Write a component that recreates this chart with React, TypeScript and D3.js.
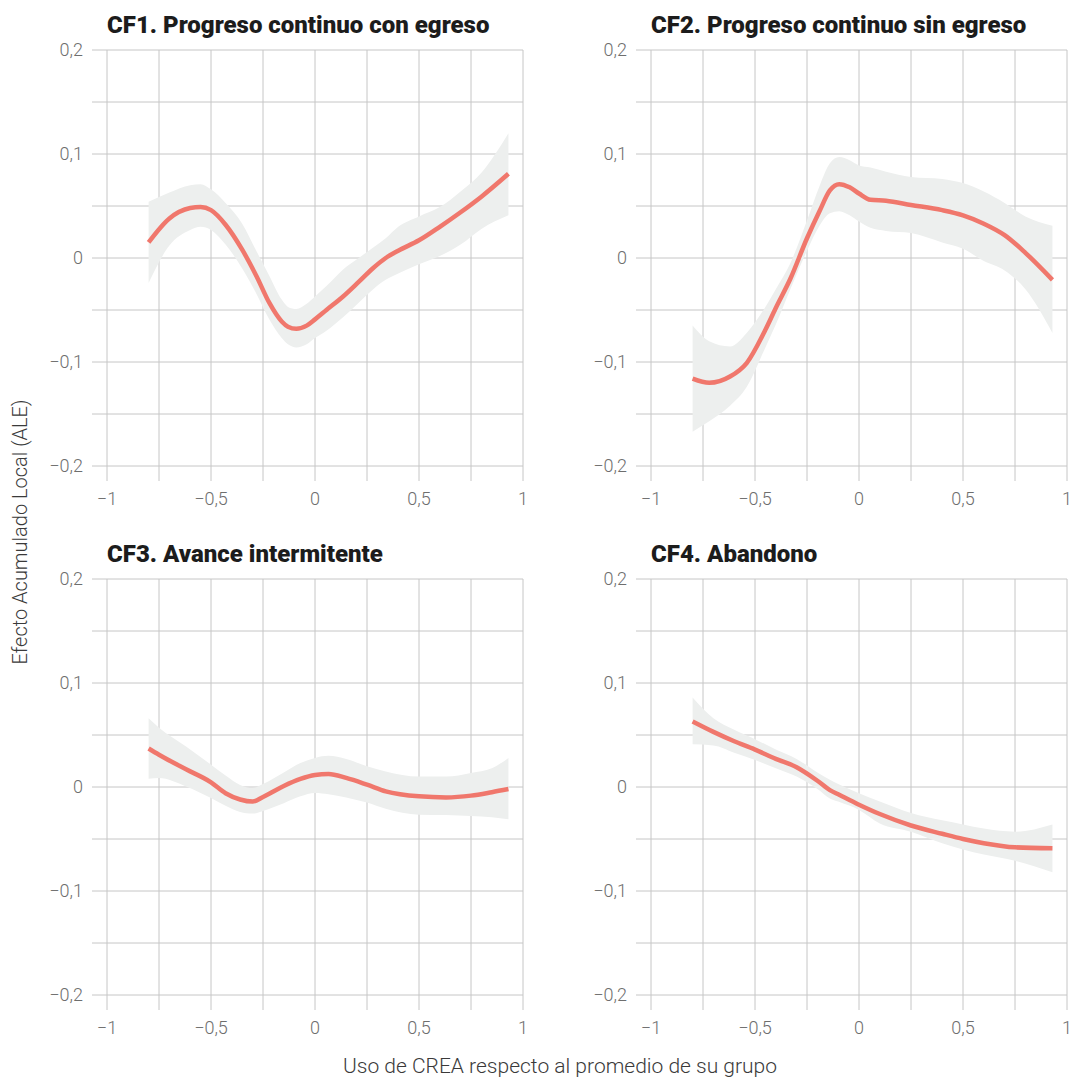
import React from 'react';
import * as d3 from 'd3';

// Axis ticks and grid
const xTickValues = [-1, -0.5, 0, 0.5, 1];
const xGridValues = [-1, -0.75, -0.5, -0.25, 0, 0.25, 0.5, 0.75, 1];
const yTickValues = [-0.2, -0.1, 0, 0.1, 0.2];
const yGridValues = [-0.2, -0.15, -0.1, -0.05, 0, 0.05, 0.1, 0.15, 0.2];

// CF1. Progreso continuo con egreso
const cf1X = [-0.8, -0.7, -0.6, -0.55, -0.5, -0.43, -0.35, -0.28, -0.22, -0.16, -0.13, -0.09, -0.04, 0, 0.055, 0.135, 0.21, 0.28, 0.34, 0.4, 0.5, 0.6, 0.7, 0.8, 0.93];
const cf1Fit = [0.015, 0.038, 0.048, 0.049, 0.046, 0.032, 0.008, -0.018, -0.043, -0.061, -0.066, -0.068, -0.065, -0.059, -0.05, -0.037, -0.023, -0.0096, 0, 0.007, 0.017, 0.03, 0.044, 0.059, 0.081];
const cf1Lo = [-0.024, 0.012, 0.027, 0.03, 0.027, 0.013, -0.01, -0.035, -0.059, -0.077, -0.083, -0.086, -0.083, -0.077, -0.07, -0.057, -0.043, -0.03, -0.021, -0.015, -0.006, 0.002, 0.013, 0.028, 0.041];
const cf1Hi = [0.054, 0.063, 0.07, 0.071, 0.066, 0.053, 0.033, 0.006, -0.017, -0.04, -0.047, -0.049, -0.044, -0.037, -0.027, -0.011, 0, 0.01, 0.019, 0.03, 0.04, 0.049, 0.064, 0.082, 0.12];

// CF2. Progreso continuo sin egreso
const cf2X = [-0.8, -0.72, -0.62, -0.54, -0.45, -0.4, -0.33, -0.25, -0.19, -0.14, -0.095, -0.045, 0, 0.055, 0.13, 0.25, 0.4, 0.5, 0.6, 0.7, 0.8, 0.93];
const cf2Fit = [-0.116, -0.12, -0.114, -0.101, -0.069, -0.048, -0.02, 0.019, 0.045, 0.065, 0.071, 0.068, 0.062, 0.056, 0.055, 0.051, 0.046, 0.041, 0.033, 0.022, 0.005, -0.021];
const cf2Lo = [-0.167, -0.157, -0.142, -0.124, -0.086, -0.064, -0.03, 0.007, 0.031, 0.043, 0.045, 0.041, 0.035, 0.029, 0.026, 0.024, 0.015, 0.009, -0.003, -0.012, -0.03, -0.072];
const cf2Hi = [-0.065, -0.08, -0.085, -0.072, -0.047, -0.03, -0.005, 0.036, 0.069, 0.091, 0.097, 0.094, 0.089, 0.087, 0.083, 0.078, 0.076, 0.072, 0.064, 0.053, 0.04, 0.031];

// CF3. Avance intermitente
const cf3X = [-0.8, -0.75, -0.62, -0.5, -0.43, -0.36, -0.3, -0.25, -0.15, -0.07, 0, 0.065, 0.15, 0.25, 0.34, 0.5, 0.63, 0.75, 0.85, 0.93];
const cf3Fit = [0.037, 0.031, 0.017, 0.0045, -0.006, -0.012, -0.014, -0.0096, 0.001, 0.0077, 0.0115, 0.0125, 0.0087, 0.0022, -0.0042, -0.009, -0.01, -0.0083, -0.005, -0.002];
const cf3Lo = [0.008, 0.0087, 0.0006, -0.0106, -0.018, -0.024, -0.0256, -0.023, -0.0156, -0.009, -0.0058, -0.007, -0.01, -0.015, -0.021, -0.0266, -0.027, -0.028, -0.029, -0.031];
const cf3Hi = [0.066, 0.057, 0.039, 0.0215, 0.011, 0.002, -0.001, 0.003, 0.014, 0.023, 0.028, 0.03, 0.027, 0.02, 0.015, 0.01, 0.01, 0.0135, 0.018, 0.028];

// CF4. Abandono
const cf4X = [-0.8, -0.7, -0.6, -0.5, -0.4, -0.3, -0.2, -0.14, -0.1, 0, 0.1, 0.25, 0.4, 0.5, 0.6, 0.75, 0.93];
const cf4Fit = [0.063, 0.053, 0.044, 0.036, 0.027, 0.019, 0.006, -0.003, -0.007, -0.017, -0.026, -0.037, -0.045, -0.05, -0.054, -0.058, -0.059];
const cf4Lo = [0.041, 0.04, 0.033, 0.026, 0.018, 0.01, -0.002, -0.011, -0.014, -0.022, -0.035, -0.043, -0.054, -0.06, -0.065, -0.071, -0.082];
const cf4Hi = [0.086, 0.066, 0.055, 0.046, 0.036, 0.027, 0.014, 0.007, 0.003, -0.006, -0.014, -0.025, -0.032, -0.036, -0.04, -0.043, -0.036];

const panelTitles = [
  'CF1. Progreso continuo con egreso',
  'CF2. Progreso continuo sin egreso',
  'CF3. Avance intermitente',
  'CF4. Abandono',
];
const yAxisTitle = 'Efecto Acumulado Local (ALE)';
const xAxisTitle = 'Uso de CREA respecto al promedio de su grupo';

const panels = [
  { title: panelTitles[0], x: cf1X, fit: cf1Fit, lo: cf1Lo, hi: cf1Hi },
  { title: panelTitles[1], x: cf2X, fit: cf2Fit, lo: cf2Lo, hi: cf2Hi },
  { title: panelTitles[2], x: cf3X, fit: cf3Fit, lo: cf3Lo, hi: cf3Hi },
  { title: panelTitles[3], x: cf4X, fit: cf4Fit, lo: cf4Lo, hi: cf4Hi },
];

const W = 1071;
const H = 1079;
const PW = 416;
const PH = 416;
const colLeft = [107, 651];
const rowTop = [50, 579];
const TICK = 15;

const FONT = 'Roboto, "Noto Sans", sans-serif';
const GRID = '#c6c6c6';
const RIBBON = '#edefee';
const LINE = '#f0776c';

const locale = d3.formatLocale({
  decimal: ',',
  thousands: '.',
  grouping: [3],
  currency: ['', '€'],
  minus: '\u2212',
});
const fmt = locale.format('.1~f');

type PanelData = { title: string; x: number[]; fit: number[]; lo: number[]; hi: number[] };

function Panel({ d, left, top }: { d: PanelData; left: number; top: number }) {
  const xs = d3.scaleLinear().domain([-1, 1]).range([left, left + PW]);
  const ys = d3.scaleLinear().domain([-0.2, 0.2]).range([top + PH, top]);
  const idx = d.x.map((_, i) => i);

  const area = d3
    .area<number>()
    .x((i) => xs(d.x[i]))
    .y0((i) => ys(d.lo[i]))
    .y1((i) => ys(d.hi[i]))
    .curve(d3.curveMonotoneX);
  const line = d3
    .line<number>()
    .x((i) => xs(d.x[i]))
    .y((i) => ys(d.fit[i]))
    .curve(d3.curveMonotoneX);

  return (
    <g>
      <text x={left} y={top - 17} fontFamily={FONT} fontWeight={900} fontSize={24} fill="#1c1c1c">
        {d.title}
      </text>
      {yGridValues.map((v) => (
        <line key={'h' + v} x1={left - TICK} x2={left + PW} y1={ys(v)} y2={ys(v)} stroke={GRID} strokeWidth={1} />
      ))}
      {xGridValues.map((v) => (
        <line key={'v' + v} x1={xs(v)} x2={xs(v)} y1={top} y2={top + PH + TICK} stroke={GRID} strokeWidth={1} />
      ))}
      {yTickValues.map((v) => (
        <text
          key={'yl' + v}
          x={left - 24}
          y={ys(v)}
          dy="0.35em"
          textAnchor="end"
          fontFamily={FONT}
          fontWeight={300}
          fontSize={18}
          fill="#6e6e6e"
        >
          {fmt(v)}
        </text>
      ))}
      {xTickValues.map((v) => (
        <text
          key={'xl' + v}
          x={xs(v)}
          y={top + PH + 39}
          textAnchor="middle"
          fontFamily={FONT}
          fontWeight={300}
          fontSize={18}
          fill="#6e6e6e"
        >
          {fmt(v)}
        </text>
      ))}
      <path d={area(idx) || ''} fill={RIBBON} />
      <path d={line(idx) || ''} fill="none" stroke={LINE} strokeWidth={4.5} strokeLinejoin="round" />
    </g>
  );
}

export default function App() {
  return (
    <svg
      width={W}
      height={H}
      viewBox={`0 0 ${W} ${H}`}
      style={{ position: 'absolute', left: 0, top: 0, background: '#ffffff' }}
    >
      <rect x={0} y={0} width={W} height={H} fill="#ffffff" />
      {panels.map((p, i) => (
        <Panel key={p.title} d={p} left={colLeft[i % 2]} top={rowTop[Math.floor(i / 2)]} />
      ))}
      <text
        transform={`translate(27, 532) rotate(-90)`}
        textAnchor="middle"
        fontFamily={FONT}
        fontWeight={300}
        fontSize={20}
        fill="#3a3a3a"
      >
        {yAxisTitle}
      </text>
      <text x={560} y={1073} textAnchor="middle" fontFamily={FONT} fontWeight={300} fontSize={21} fill="#3a3a3a">
        {xAxisTitle}
      </text>
    </svg>
  );
}
